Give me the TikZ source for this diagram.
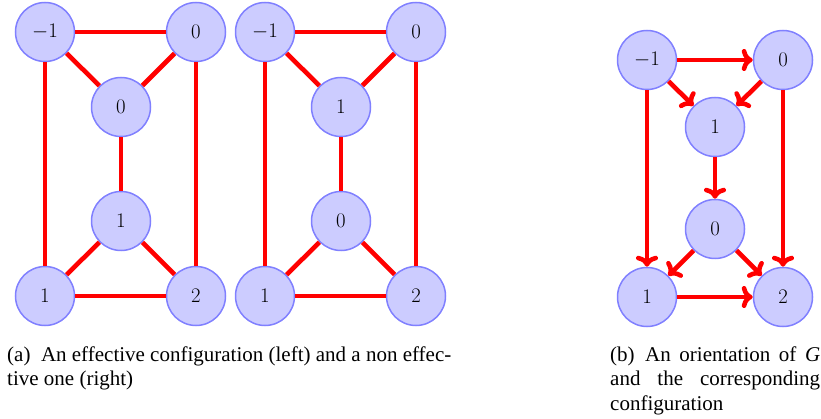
\documentclass[tikz,border=0pt]{standalone}
\usepackage{fontspec}
\usepackage{tikz}
\usetikzlibrary{arrows.meta}
\newfontfamily\capfont{Liberation Serif}
\definecolor{vtxfill}{HTML}{CCCCFF}
\definecolor{vtxline}{HTML}{8080FF}
\definecolor{edgred}{HTML}{FF0000}
\tikzset{
  vtx/.style     = {circle, draw=vtxline, fill=vtxfill, line width=1.5pt,
                    minimum size=59pt, inner sep=0pt,
                    font=\fontsize{21}{25}\selectfont},
  edg/.style     = {draw=edgred, line width=4.6pt},
  arc/.style     = {edg, -{Computer Modern Rightarrow[length=11pt, width=22pt,
                    line width=0pt 1, round]}},
  captxt/.style  = {font=\capfont\fontsize{21}{24.5}\selectfont, inner sep=0pt,
                    align=left}
}

\begin{document}
\begin{tikzpicture}[x=1pt, y=-1pt]
  \useasboundingbox (0,0) rectangle (821,419);

  % effective configuration
  \node[vtx] (atl) at (45,32)   {$-1$};
  \node[vtx] (atr) at (196,32)  {$0$};
  \node[vtx] (amt) at (121,107) {$0$};
  \node[vtx] (amb) at (121,221) {$1$};
  \node[vtx] (abl) at (45,296)  {$1$};
  \node[vtx] (abr) at (196,296) {$2$};

  \draw[edg] (atl) -- (atr);  \draw[edg] (atl) -- (amt);
  \draw[edg] (atr) -- (amt);  \draw[edg] (amt) -- (amb);
  \draw[edg] (atl) -- (abl);  \draw[edg] (atr) -- (abr);
  \draw[edg] (amb) -- (abl);  \draw[edg] (amb) -- (abr);
  \draw[edg] (abl) -- (abr);

  % non effective one
  \node[vtx] (btl) at (265,32)  {$-1$};
  \node[vtx] (btr) at (416,32)  {$0$};
  \node[vtx] (bmt) at (341,107) {$1$};
  \node[vtx] (bmb) at (341,221) {$0$};
  \node[vtx] (bbl) at (265,296) {$1$};
  \node[vtx] (bbr) at (416,296) {$2$};

  \draw[edg] (btl) -- (btr);  \draw[edg] (btl) -- (bmt);
  \draw[edg] (btr) -- (bmt);  \draw[edg] (bmt) -- (bmb);
  \draw[edg] (btl) -- (bbl);  \draw[edg] (btr) -- (bbr);
  \draw[edg] (bmb) -- (bbl);  \draw[edg] (bmb) -- (bbr);
  \draw[edg] (bbl) -- (bbr);

  % orientation of G
  \node[vtx] (ctl) at (647,60)  {$-1$};
  \node[vtx] (ctr) at (783,60)  {$0$};
  \node[vtx] (cmt) at (715,127) {$1$};
  \node[vtx] (cmb) at (715,229) {$0$};
  \node[vtx] (cbl) at (647,297) {$1$};
  \node[vtx] (cbr) at (783,297) {$2$};

  \draw[arc] (ctl) -- (ctr);  \draw[arc] (ctl) -- (cmt);
  \draw[arc] (ctr) -- (cmt);  \draw[arc] (cmt) -- (cmb);
  \draw[arc] (ctl) -- (cbl);  \draw[arc] (ctr) -- (cbr);
  \draw[arc] (cmb) -- (cbl);  \draw[arc] (cmb) -- (cbr);
  \draw[arc] (cbl) -- (cbr);

  % captions
  \node[captxt, anchor=north west] (capa) at (7,346.5)
       {(a)\enspace An effective configuration (left) and a non effec-\\
        tive one (right)};
  \node[captxt, anchor=north west] (capb) at (610,346.5)
       {\makebox[210pt][s]{(b)\enspace An orientation of \textit{G}}\\
        \makebox[210pt][s]{and the corresponding}\\
        configuration};
\end{tikzpicture}
\end{document}
